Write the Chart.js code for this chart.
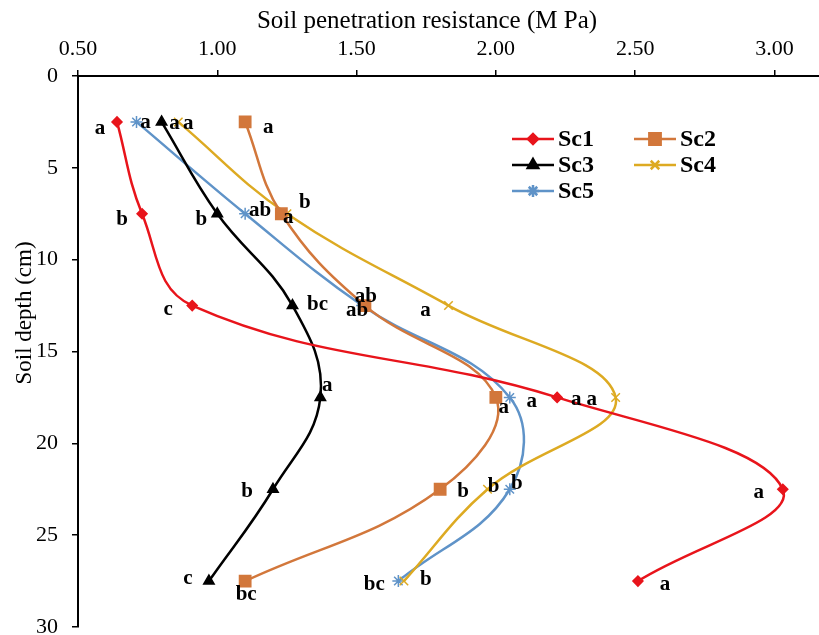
<!DOCTYPE html>
<html>
<head>
<meta charset="utf-8">
<script src="https://cdn.jsdelivr.net/npm/chart.js@4.4.0/dist/chart.umd.min.js"></script>
<style>
  html, body { margin: 0; padding: 0; background: #fff; }
  #wrap { width: 819px; height: 635px; }
</style>
</head>
<body>
<div id="wrap"><canvas id="soilChart"></canvas></div>
<script>
// depth of each sampling layer (cm)
const depths = [2.5, 7.5, 12.5, 17.5, 22.5, 27.5];
const xTicks = [0.5, 1.0, 1.5, 2.0, 2.5, 3.0];
const yTicks = [0, 5, 10, 15, 20, 25, 30];

// penetration resistance (MPa)
const sc1 = [0.64, 0.73, 0.91, 2.22, 3.03, 2.51];
const sc2 = [1.10, 1.23, 1.53, 2.00, 1.80, 1.10];
const sc3 = [0.80, 1.00, 1.27, 1.37, 1.20, 0.97];
const sc4 = [0.86, 1.25, 1.83, 2.43, 1.97, 1.67];
const sc5 = [0.71, 1.10, 1.52, 2.05, 2.05, 1.65];

// significance letters
const sc1Letters = ['a', 'b', 'c', 'a', 'a', 'a'];
const sc2Letters = ['a', 'a', 'ab', 'a', 'b', 'bc'];
const sc3Letters = ['a', 'b', 'bc', 'a', 'b', 'c'];
const sc4Letters = ['a', 'b', 'a', 'a', 'b', 'b'];
const sc5Letters = ['a', 'ab', 'ab', 'a', 'b', 'bc'];

// where each letter sits relative to its point (px)
const sc1Offsets = [[-17, 7], [-20, 6], [-24, 4], [19, 2], [-24, 3], [27, 3]];
const sc2Offsets = [[23, 6], [7, 4], [1, -9], [8, 10], [23, 2], [1, 13]];
const sc3Offsets = [[13, 2], [-16, 6], [25, -1], [7, -12], [-26, 2], [-21, -3]];
const sc4Offsets = [[10, 2], [18, -11], [-23, 5], [-24, 2], [6, -3], [22, -2]];
const sc5Offsets = [[9, 1], [15, -3], [-5, 5], [22, 4], [7, -6], [-24, 3]];

const serif = '"Liberation Serif", "Times New Roman", serif';

function pts(vals) {
    return vals.map((v, i) => ({ x: v, y: depths[i] }));
}

const series = [
    { label: 'Sc1', data: sc1, letters: sc1Letters, offs: sc1Offsets, color: '#E8141B', style: 'rectRot', r: 5 },
    { label: 'Sc2', data: sc2, letters: sc2Letters, offs: sc2Offsets, color: '#D2773B', style: 'rect', r: 8 },
    { label: 'Sc3', data: sc3, letters: sc3Letters, offs: sc3Offsets, color: '#000000', style: 'triangle', r: 6 },
    { label: 'Sc4', data: sc4, letters: sc4Letters, offs: sc4Offsets, color: '#DDAA22', style: 'crossRot', r: 6 },
    { label: 'Sc5', data: sc5, letters: sc5Letters, offs: sc5Offsets, color: '#5F93C8', style: 'star', r: 6 }
];

// letters next to each point
const letterPlugin = {
    id: 'letters',
    afterDatasetsDraw(chart) {
        const ctx = chart.ctx;
        ctx.save();
        ctx.font = 'bold 21px ' + serif;
        ctx.fillStyle = '#000';
        ctx.textAlign = 'center';
        ctx.textBaseline = 'middle';
        series.forEach((s, di) => {
            const meta = chart.getDatasetMeta(di);
            meta.data.forEach((el, i) => {
                ctx.fillText(s.letters[i], el.x + s.offs[i][0], el.y + s.offs[i][1]);
            });
        });
        ctx.restore();
    }
};

// axis titles (placed like the original, not centred on the plot)
const titlePlugin = {
    id: 'axisTitles',
    afterDraw(chart) {
        const ctx = chart.ctx;
        ctx.save();
        ctx.fillStyle = '#000';
        ctx.textAlign = 'center';
        ctx.textBaseline = 'middle';
        ctx.font = '25px ' + serif;
        ctx.fillText('Soil penetration resistance (M Pa)', 427, 21);
        ctx.translate(25, 313);
        ctx.rotate(-Math.PI / 2);
        ctx.font = '23px ' + serif;
        ctx.fillText('Soil depth (cm)', 0, 0);
        ctx.restore();
    }
};

// legend inside the plot, two columns
const legendPlugin = {
    id: 'insideLegend',
    afterDraw(chart) {
        const ctx = chart.ctx;
        const cells = [[512, 139], [634, 139], [512, 165], [634, 165], [512, 191]];
        ctx.save();
        ctx.font = 'bold 24px ' + serif;
        ctx.textBaseline = 'middle';
        series.forEach((s, i) => {
            const x0 = cells[i][0];
            const y = cells[i][1];
            ctx.strokeStyle = s.color;
            ctx.lineWidth = 2.5;
            ctx.beginPath();
            ctx.moveTo(x0, y);
            ctx.lineTo(x0 + 42, y);
            ctx.stroke();
            ctx.fillStyle = s.color;
            Chart.helpers.drawPoint(ctx, { pointStyle: s.style, radius: s.r, rotation: 0, borderWidth: 1.5 }, x0 + 21, y);
            ctx.fillStyle = '#000';
            ctx.fillText(s.label, x0 + 46, y + 1);
        });
        ctx.restore();
    }
};

function noOverflow(scale) {
    scale.paddingLeft = 0;
    scale.paddingRight = 0;
    scale.paddingTop = 0;
    scale.paddingBottom = 0;
}

new Chart(document.getElementById('soilChart'), {
    type: 'scatter',
    data: {
        datasets: series.map(s => ({
            label: s.label,
            data: pts(s.data),
            showLine: true,
            tension: 0.4,
            borderColor: s.color,
            backgroundColor: s.color,
            borderWidth: 2.5,
            pointStyle: s.style,
            pointRadius: s.r,
            pointBorderWidth: 1.5,
            pointBorderColor: s.color,
            pointBackgroundColor: s.color
        }))
    },
    options: {
        responsive: true,
        maintainAspectRatio: false,
        animation: false,
        layout: { autoPadding: false, padding: { left: 0, top: 0, right: 0, bottom: 8 } },
        plugins: {
            legend: { display: false },
            tooltip: { enabled: false }
        },
        scales: {
            x: {
                type: 'linear',
                position: 'top',
                min: 0.5,
                max: 3.16,
                afterBuildTicks: scale => { scale.ticks = xTicks.map(v => ({ value: v })); },
                afterFit: scale => { scale.height = 76; noOverflow(scale); },
                ticks: {
                    color: '#000',
                    font: { family: serif, size: 22 },
                    padding: 8,
                    maxRotation: 0,
                    callback: v => v.toFixed(2)
                },
                grid: { drawOnChartArea: false, tickLength: 6, color: '#000', lineWidth: 1.5 },
                border: { color: '#000', width: 2 }
            },
            y: {
                type: 'linear',
                reverse: true,
                min: 0,
                max: 30,
                afterBuildTicks: scale => { scale.ticks = yTicks.map(v => ({ value: v })); },
                afterFit: scale => { scale.width = 78; noOverflow(scale); },
                ticks: {
                    color: '#000',
                    font: { family: serif, size: 22 },
                    padding: 14
                },
                grid: { drawOnChartArea: false, tickLength: 6, color: '#000', lineWidth: 1.5 },
                border: { color: '#000', width: 2 }
            }
        }
    },
    plugins: [letterPlugin, titlePlugin, legendPlugin]
});
</script>
</body>
</html>
